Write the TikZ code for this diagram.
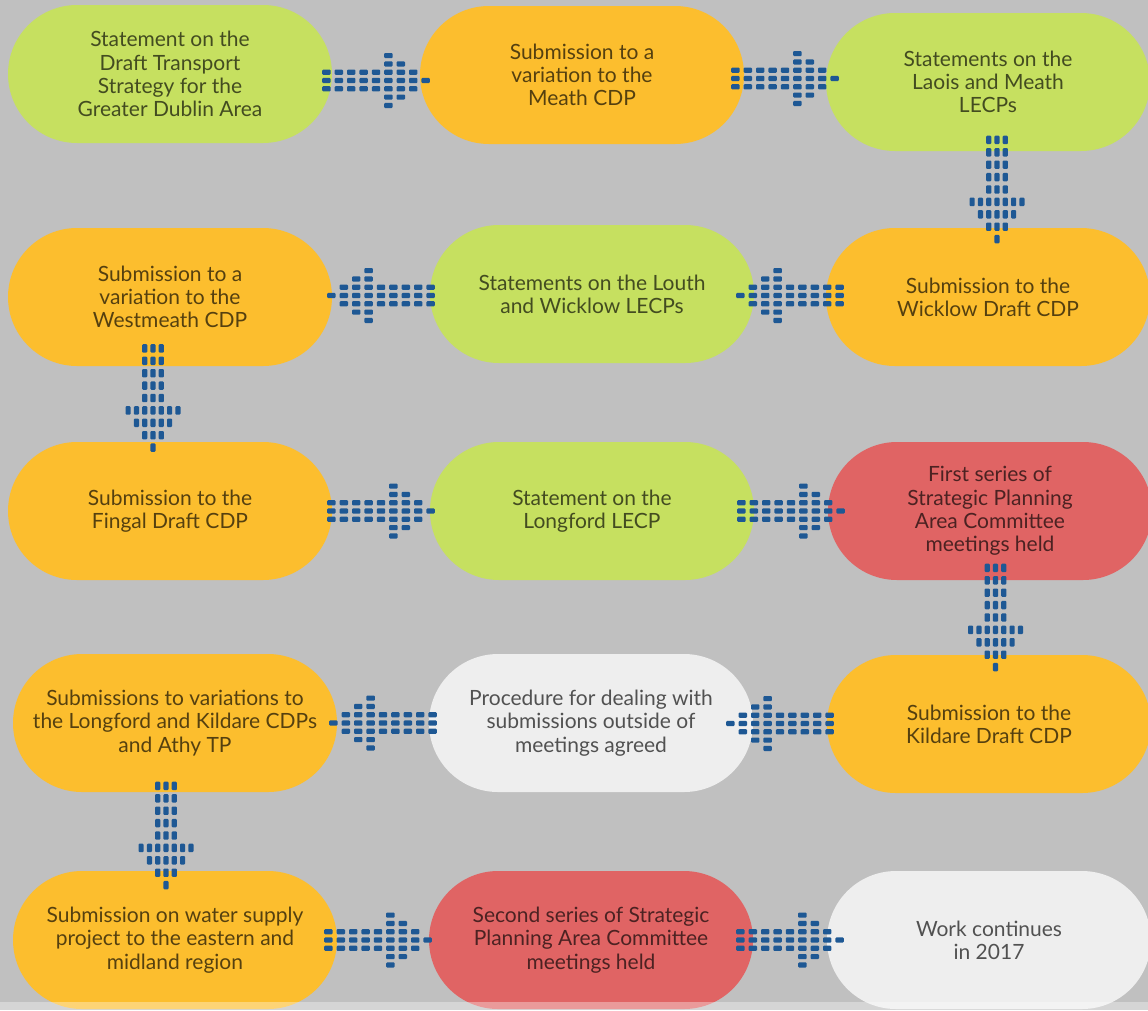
\documentclass[tikz,border=0pt]{standalone}
\usepackage{fontspec}
\setmainfont{Lato}
\usetikzlibrary{calc,shapes.misc}

\definecolor{bggray}{RGB}{192,192,192}
\definecolor{lime}{RGB}{198,224,96}
\definecolor{amber}{RGB}{252,190,46}
\definecolor{coral}{RGB}{224,100,100}
\definecolor{paper}{RGB}{238,238,238}
\definecolor{dotblue}{RGB}{30,88,148}

\tikzset{
  stage/.style={rounded rectangle, minimum width=324pt, minimum height=138pt,
    inner sep=0pt, align=center, font=\fontsize{21}{23.3}\selectfont,
    text=black, text opacity=0.66},
  blockarrow/.pic={
    \foreach \c/\h in {0/1,1/1,2/1,3/1,4/1,5/3,6/2,7/1,8/0} {
      \pgfmathtruncatemacro\rows{2*\h+1}
      \foreach \r in {1,...,\rows}
        \fill[dotblue, rounded corners=1pt]
          ({(\c-4)*12.4-4.2}, {(\r-\h-1)*8.3-2.6}) rectangle ++(8.4,5.2);
    }
  }
}

\begin{document}
\begin{tikzpicture}[x=1pt,y=-1pt]
  \useasboundingbox (0,0) rectangle (1148,1010);
  \clip (0,0) rectangle (1148,1010);
  \fill[bggray] (0,0) rectangle (1148,1010);

  % first row
  \node[stage, fill=lime]  (a1) at (170,74)  {Statement on the\\Draft Transport\\Strategy for the\\Greater Dublin Area};
  \node[stage, fill=amber] (a2) at (582,75)  {Submission to a\\variation to the\\Meath CDP};
  \node[stage, fill=lime]  (a3) at (988,82)  {Statements on the\\Laois and Meath\\LECPs};

  % second row
  \node[stage, fill=amber] (b1) at (170,297) {Submission to a\\variation to the\\Westmeath CDP};
  \node[stage, fill=lime]  (b2) at (592,294) {Statements on the Louth\\and Wicklow LECPs};
  \node[stage, fill=amber] (b3) at (988,297) {Submission to the\\Wicklow Draft CDP};

  % third row
  \node[stage, fill=amber] (c1) at (170,511) {Submission to the\\Fingal Draft CDP};
  \node[stage, fill=lime]  (c2) at (592,511) {Statement on the\\Longford LECP};
  \node[stage, fill=coral] (c3) at (990,511) {First series of\\Strategic Planning\\Area Committee\\meetings held};

  % fourth row
  \node[stage, fill=amber] (d1) at (175,723) {Submissions to variations to\\the Longford and Kildare CDPs\\and Athy TP};
  \node[stage, fill=paper] (d2) at (591,723) {Procedure for dealing with\\submissions outside of\\meetings agreed};
  \node[stage, fill=amber] (d3) at (989,724) {Submission to the\\Kildare Draft CDP};

  % fifth row
  \node[stage, fill=amber] (e1) at (175,940) {Submission on water supply\\project to the eastern and\\midland region};
  \node[stage, fill=coral] (e2) at (591,940) {Second series of Strategic\\Planning Area Committee\\meetings held};
  \node[stage, fill=paper] (e3) at (989,940) {Work continues\\in 2017};

  % dotted arrows
  \pic[yshift=-6pt] at ($(a1.east)!.5!(a2.west)$) {blockarrow};
  \pic at ($(a2.east)!.5!(a3.west)$) {blockarrow};
  \pic[xshift=9pt, rotate=-90] at ($(a3.south)!.5!(b3.north)$) {blockarrow};
  \pic[rotate=180] at ($(b3.west)!.5!(b2.east)$) {blockarrow};
  \pic[rotate=180] at ($(b2.west)!.5!(b1.east)$) {blockarrow};
  \pic[xshift=-17pt, yshift=6pt, rotate=-90] at ($(b1.south)!.5!(c1.north)$) {blockarrow};
  \pic at ($(c1.east)!.5!(c2.west)$) {blockarrow};
  \pic at ($(c2.east)!.5!(c3.west)$) {blockarrow};
  \pic[xshift=6pt, rotate=-90] at ($(c3.south)!.5!(d3.north)$) {blockarrow};
  \pic[xshift=-10pt, rotate=180] at ($(d3.west)!.5!(d2.east)$) {blockarrow};
  \pic[rotate=180] at ($(d2.west)!.5!(d1.east)$) {blockarrow};
  \pic[xshift=-9pt, yshift=-4pt, rotate=-90] at ($(d1.south)!.5!(e1.north)$) {blockarrow};
  \pic[xshift=-5pt] at ($(e1.east)!.5!(e2.west)$) {blockarrow};
  \pic at ($(e2.east)!.5!(e3.west)$) {blockarrow};

  \fill[white, opacity=0.35] (0,1002) rectangle (1148,1010);
\end{tikzpicture}
\end{document}
